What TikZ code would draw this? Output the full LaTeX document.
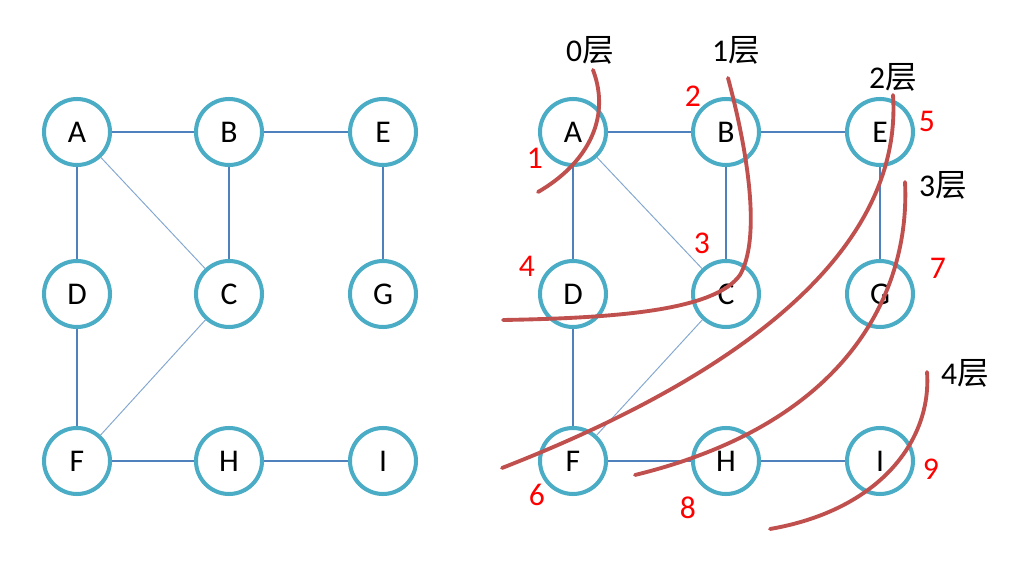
\documentclass[tikz,border=0pt]{standalone}
\usepackage{fontspec}
\setmainfont{Carlito}
\newfontfamily\cjk{Noto Sans CJK SC}
\definecolor{ringblue}{RGB}{75,172,198}
\definecolor{edgeblue}{RGB}{79,129,189}
\definecolor{cutred}{RGB}{192,80,77}
\tikzset{
  vertex/.style={circle,draw=ringblue,line width=2.3pt,minimum size=1.32cm,inner sep=0pt,font=\fontsize{18}{21}\selectfont},
  edge/.style={draw=edgeblue,line width=0.7pt},
  thinedge/.style={draw=edgeblue!70,line width=0.55pt},
  layer/.style={font=\fontsize{18}{21}\selectfont},
  order/.style={text=red,font=\fontsize{18}{21}\selectfont},
  cut/.style={draw=cutred,line width=2.2pt,line cap=round}
}
\begin{document}
\begin{tikzpicture}[x=0.02cm,y=-0.02cm]
\useasboundingbox (0,0) rectangle (1025,563);

\node[vertex] (lA) at (77,132) {A};
\node[vertex] (lB) at (229,132) {B};
\node[vertex] (lE) at (383,132) {E};
\node[vertex] (lD) at (77,294) {D};
\node[vertex] (lC) at (229,294) {C};
\node[vertex] (lG) at (383,294) {G};
\node[vertex] (lF) at (77,461) {F};
\node[vertex] (lH) at (229,461) {H};
\node[vertex] (lI) at (383,461) {I};

\draw[edge] (lA) -- (lB);
\draw[edge] (lB) -- (lE);
\draw[edge] (lA) -- (lD);
\draw[edge] (lB) -- (lC);
\draw[edge] (lE) -- (lG);
\draw[edge] (lD) -- (lF);
\draw[edge] (lF) -- (lH);
\draw[edge] (lH) -- (lI);
\draw[thinedge] (lA) -- (lC);
\draw[thinedge] (lC) -- (lF);

\node[vertex] (rA) at (573,132) {A};
\node[vertex] (rB) at (726,132) {B};
\node[vertex] (rE) at (880,132) {E};
\node[vertex] (rD) at (573,294) {D};
\node[vertex] (rC) at (726,294) {C};
\node[vertex] (rG) at (880,294) {G};
\node[vertex] (rF) at (573,461) {F};
\node[vertex] (rH) at (726,461) {H};
\node[vertex] (rI) at (880,461) {I};

\draw[edge] (rA) -- (rB);
\draw[edge] (rB) -- (rE);
\draw[edge] (rA) -- (rD);
\draw[edge] (rB) -- (rC);
\draw[edge] (rE) -- (rG);
\draw[edge] (rD) -- (rF);
\draw[edge] (rF) -- (rH);
\draw[edge] (rH) -- (rI);
\draw[thinedge] (rA) -- (rC);
\draw[thinedge] (rC) -- (rF);

\node[layer] (l0) at (590,50) {0\cjk 层};
\node[layer] (l1) at (736,50) {1\cjk 层};
\node[layer] (l2) at (893,77) {2\cjk 层};
\node[layer] (l3) at (943,185) {3\cjk 层};
\node[layer] (l4) at (965,373) {4\cjk 层};

\node[order] (n1) at (535,158) {1};
\node[order] (n2) at (693,96) {2};
\node[order] (n3) at (702,243) {3};
\node[order] (n4) at (527,266) {4};
\node[order] (n5) at (927,121) {5};
\node[order] (n6) at (537,495) {6};
\node[order] (n7) at (938,268) {7};
\node[order] (n8) at (688,508) {8};
\node[order] (n9) at (931,469) {9};

\draw[cut] (593,70) .. controls (612,120) and (585,165) .. (538,192);
\draw[cut] (728,78) .. controls (750,160) and (760,240) .. (740,275)
  .. controls (715,310) and (620,318) .. (503,320);
\draw[cut] (893,95) .. controls (900,200) and (830,340) .. (502,468);
\draw[cut] (905,182) .. controls (910,280) and (860,420) .. (635,475);
\draw[cut] (927,372) .. controls (932,440) and (880,510) .. (770,529);
\end{tikzpicture}
\end{document}
